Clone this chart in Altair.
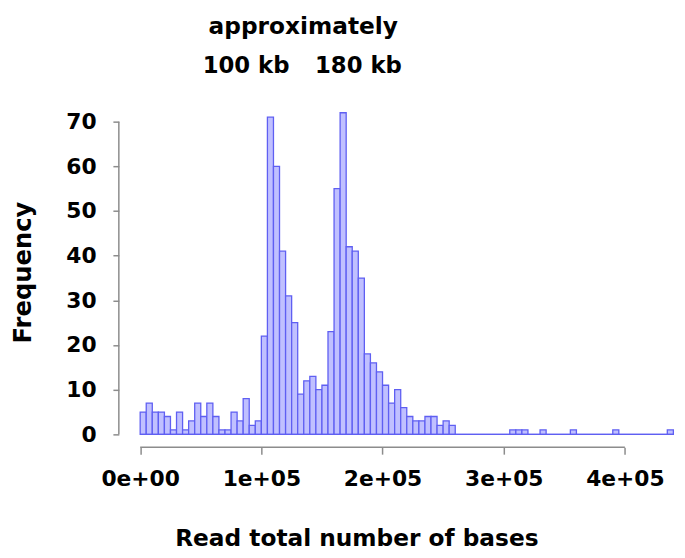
import altair as alt
import pandas as pd

# ---- data (bin width 5000, bins start at 0) ----
bin_width = 5000
counts = [
    5, 7, 5, 5, 4, 1, 5, 1, 3, 7,
    4, 7, 4, 1, 1, 5, 3, 8, 2, 3,
    22, 71, 60, 41, 31, 25, 9, 12, 13, 10,
    11, 23, 55, 72, 42, 41, 35, 18, 16, 14,
    11, 7, 10, 6, 4, 3, 3, 4, 4, 2,
    3, 2, 0, 0, 0, 0, 0, 0, 0, 0,
    0, 1, 1, 1, 0, 0, 1, 0, 0, 0,
    0, 1, 0, 0, 0, 0, 0, 0, 1, 0,
    0, 0, 0, 0, 0, 0, 0, 1,
]
x_ticks = [0, 100000, 200000, 300000, 400000]
x_tick_labels = ["0e+00", "1e+05", "2e+05", "3e+05", "4e+05"]
y_ticks = [0, 10, 20, 30, 40, 50, 60, 70]
top_line = ["approximately"]
top_line_x = [134600]
peak_labels = ["100 kb", "180 kb"]
peak_labels_x = [87400, 180100]

df = pd.DataFrame({
    "start": [i * bin_width for i in range(len(counts))],
    "count": counts,
})
df["end"] = df["start"] + bin_width

FONT = "DejaVu Sans"
TXT = "#000000"
W, H = 564, 351
xscale = alt.Scale(domain=[-17600, 443000], nice=False, zero=False)
yscale = alt.Scale(domain=[-2.88, 74.88], nice=False, zero=False)
AXIS_GRAY = "#8c8c8c"

label_expr = " : ".join(
    f"datum.value == {v} ? '{t}'" for v, t in zip(x_ticks, x_tick_labels)
) + " : ''"

x_axis = alt.Axis(
    values=x_ticks, labelExpr=label_expr, domain=False, grid=False,
    tickColor=AXIS_GRAY, tickSize=7, tickWidth=1.5,
    labelFont=FONT, labelFontSize=22, labelFontWeight="bold", labelColor=TXT,
    labelPadding=15, labelFlush=False, labelOverlap=False,
    title="Read total number of bases", titleFont=FONT, titleFontSize=23.5,
    titleFontWeight="bold", titleColor=TXT, titleX=240, titleY=99,
    titleBaseline="alphabetic", titleAlign="center",
)
y_axis = alt.Axis(
    values=y_ticks, domain=False, grid=False,
    tickColor=AXIS_GRAY, tickSize=6, tickWidth=1.5,
    labelFont=FONT, labelFontSize=22, labelFontWeight="bold", labelColor=TXT,
    labelPadding=17, labelAlign="right", labelBaseline="middle",
    labelFlush=False, labelOverlap=False,
    title="Frequency", titleFont=FONT, titleFontSize=24.5, titleFontWeight="bold",
    titleColor=TXT, titleX=-89, titleY=174, titleAngle=270,
    titleAlign="center", titleBaseline="alphabetic",
)

bars = alt.Chart(df).mark_rect(
    fill="#c0c0ff", stroke="#5f5ff2", strokeWidth=1.3
).encode(
    x=alt.X("start:Q", scale=xscale, axis=x_axis),
    x2="end:Q",
    y=alt.Y("count:Q", scale=yscale, axis=y_axis),
    y2=alt.datum(0),
)

baseline = alt.Chart(pd.DataFrame({"a": [0], "b": [len(counts) * bin_width], "y": [0]})).mark_rule(
    color="#5f5ff2", strokeWidth=1.3
).encode(
    x=alt.X("a:Q", scale=xscale), x2="b:Q",
    y=alt.Y("y:Q", scale=yscale),
)

x_line = alt.Chart(pd.DataFrame({"a": [x_ticks[0]], "b": [x_ticks[-1]]})).mark_rule(
    color=AXIS_GRAY, strokeWidth=1.5
).encode(x=alt.X("a:Q", scale=xscale), x2="b:Q", y=alt.value(H))

y_line = alt.Chart(pd.DataFrame({"a": [y_ticks[0]], "b": [y_ticks[-1]]})).mark_rule(
    color=AXIS_GRAY, strokeWidth=1.5
).encode(y=alt.Y("a:Q", scale=yscale), y2="b:Q", x=alt.value(0))

top_text = alt.Chart(pd.DataFrame({"label": top_line, "x": top_line_x})).mark_text(
    font=FONT, fontSize=23.5, fontWeight="bold", color=TXT,
    align="center", baseline="alphabetic",
).encode(x=alt.X("x:Q", scale=xscale), y=alt.value(-67), text="label:N")

peak_text = alt.Chart(pd.DataFrame({"label": peak_labels, "x": peak_labels_x})).mark_text(
    font=FONT, fontSize=23, fontWeight="bold", color=TXT,
    align="center", baseline="alphabetic",
).encode(x=alt.X("x:Q", scale=xscale), y=alt.value(-27), text="label:N")

chart = alt.layer(bars, baseline, x_line, y_line, top_text, peak_text).properties(
    width=W, height=H,
    padding={"left": 112, "top": 90, "right": 0, "bottom": 101},
    autosize=alt.AutoSizeParams(type="none"),
    background="white",
).configure_view(stroke=None)

chart.save("out.html", embed_options={"renderer": "svg", "actions": False})
